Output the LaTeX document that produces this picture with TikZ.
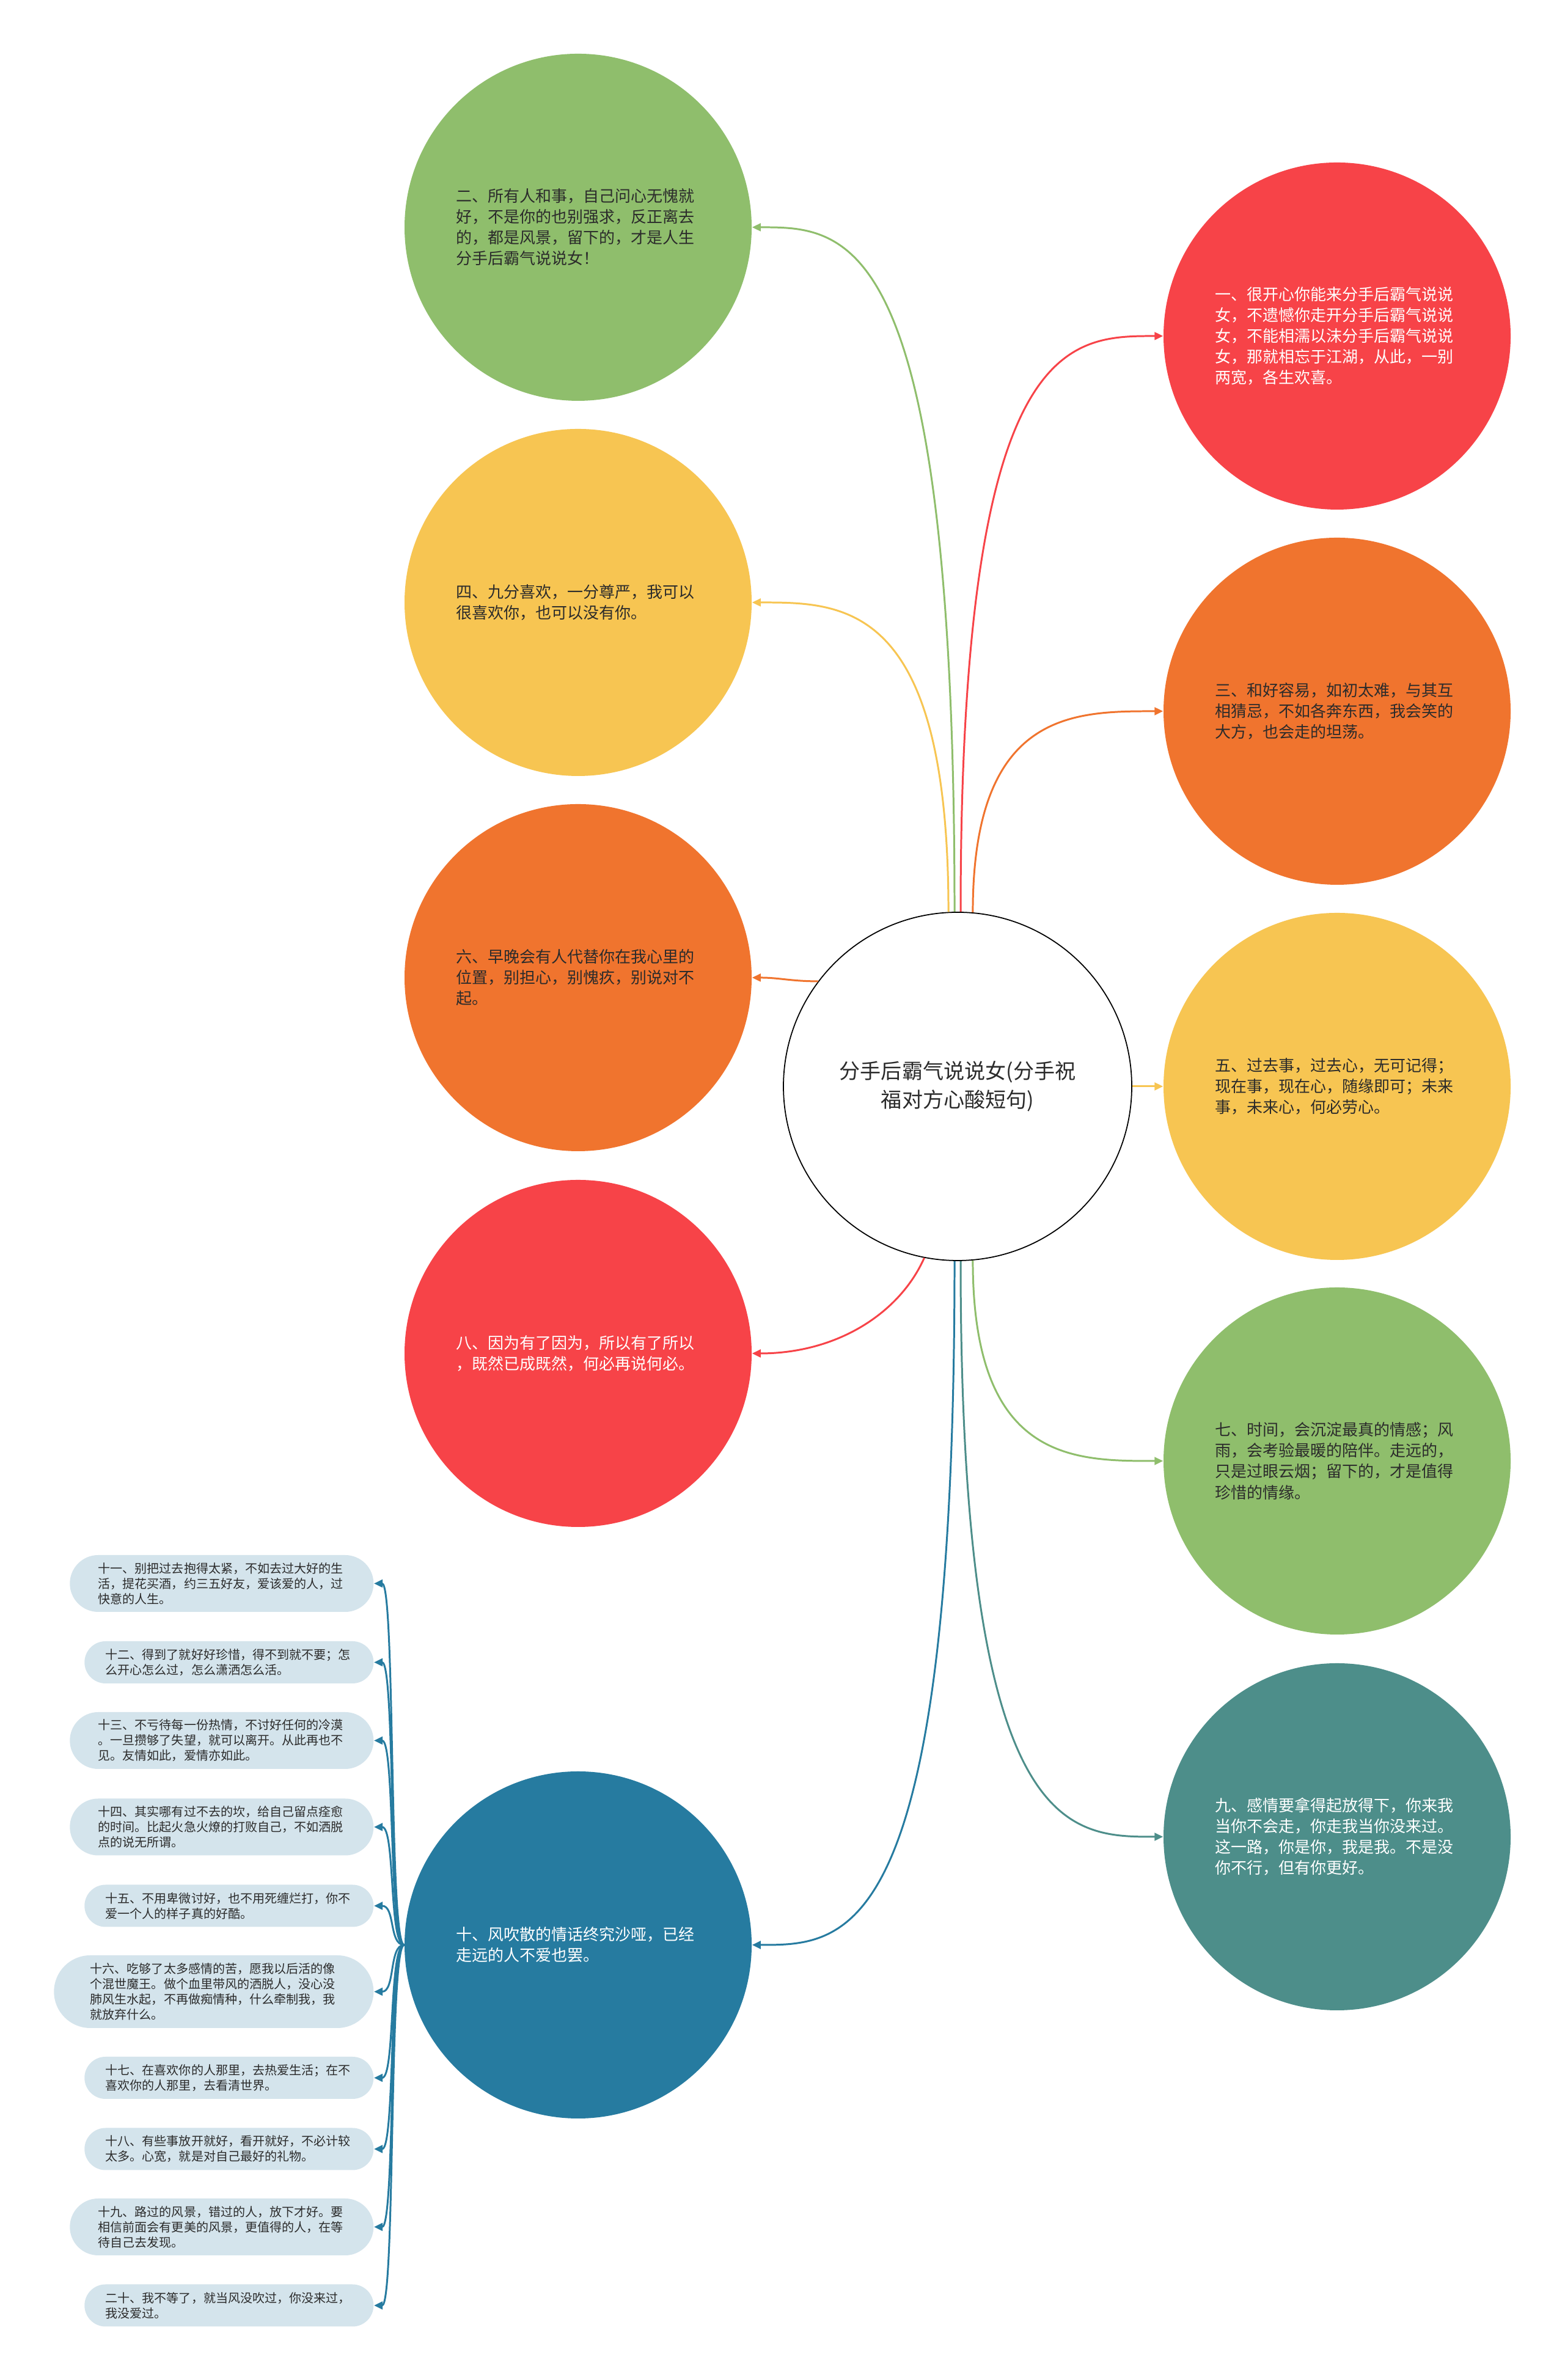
\documentclass[tikz,border=0pt]{standalone}
\usepackage{fontspec}
\usepackage{xcolor}
\usepackage{tikz}
\usetikzlibrary{arrows.meta, calc, positioning}
\newfontfamily\cjkfont{Noto Sans CJK SC}
\definecolor{softred}{HTML}{F74348}
\definecolor{leafgreen}{HTML}{8FBE6C}
\definecolor{warmorange}{HTML}{F0742E}
\definecolor{sunyellow}{HTML}{F7C552}
\definecolor{deepteal}{HTML}{4D8E8A}
\definecolor{oceanblue}{HTML}{267BA0}
\definecolor{leaffill}{HTML}{D4E4EC}
\definecolor{inkdark}{HTML}{2B2B2B}

\begin{document}
\begin{tikzpicture}[
  hub/.style     = {circle, draw=black, line width=0.5pt, fill=white, minimum size=5.70cm, inner sep=0pt, align=center, text=inkdark, font=\cjkfont\fontsize{9.7}{13.4}\selectfont},
  bubble/.style  = {circle, fill=#1, minimum size=5.68cm, inner sep=0pt, text width=4.0cm, align=left, text=inkdark, font=\cjkfont\fontsize{7.4}{9.7}\selectfont},
  leafbox/.style = {fill=leaffill, text=inkdark, minimum height=#1cm, inner xsep=0.5*#1cm, inner ysep=0pt, rounded corners=0.5*#1cm, text width=4.04cm, align=left, anchor=east, font=\cjkfont\fontsize{5.7}{7.1}\selectfont},
  arr/.style     = {-{Triangle[length=4pt,width=3.6pt]}, line width=0.85pt},
]
\useasboundingbox (0,0) rectangle (25.6,38.95);
\fill[white] (0,0) rectangle (25.6,38.95);
% centre
\node[hub] (c) at (15.67,21.17) {分手后霸气说说女(分手祝\\福对方心酸短句)};
% left column
\node[bubble=leafgreen] (n2) at (9.46,35.23) {二、所有人和事，自己问心无愧就\\好，不是你的也别强求，反正离去\\的，都是风景，留下的，才是人生\\分手后霸气说说女！};
\node[bubble=sunyellow] (n4) at (9.46,29.09) {四、九分喜欢，一分尊严，我可以\\很喜欢你，也可以没有你。};
\node[bubble=warmorange] (n6) at (9.46,22.95) {六、早晚会有人代替你在我心里的\\位置，别担心，别愧疚，别说对不\\起。};
\node[bubble=softred, text=white] (n8) at (9.46,16.80) {八、因为有了因为，所以有了所以\\，既然已成既然，何必再说何必。};
\node[bubble=oceanblue, text=white] (n10) at (9.46,7.12) {十、风吹散的情话终究沙哑，已经\\走远的人不爱也罢。};
% right column
\node[bubble=softred, text=white] (n1) at (21.88,33.45) {一、很开心你能来分手后霸气说说\\女，不遗憾你走开分手后霸气说说\\女，不能相濡以沫分手后霸气说说\\女，那就相忘于江湖，从此，一别\\两宽，各生欢喜。};
\node[bubble=warmorange] (n3) at (21.88,27.31) {三、和好容易，如初太难，与其互\\相猜忌，不如各奔东西，我会笑的\\大方，也会走的坦荡。};
\node[bubble=sunyellow] (n5) at (21.88,21.17) {五、过去事，过去心，无可记得；\\现在事，现在心，随缘即可；未来\\事，未来心，何必劳心。};
\node[bubble=leafgreen] (n7) at (21.88,15.04) {七、时间，会沉淀最真的情感；风\\雨，会考验最暖的陪伴。走远的，\\只是过眼云烟；留下的，才是值得\\珍惜的情缘。};
\node[bubble=deepteal, text=white] (n9) at (21.88,8.89) {九、感情要拿得起放得下，你来我\\当你不会走，你走我当你没来过。\\这一路，你是你，我是我。不是没\\你不行，但有你更好。};
% leaves of ten
\node[leafbox=0.93] (b11) at (6.12,13.035) {十一、别把过去抱得太紧，不如去过大好的生\\活，提花买酒，约三五好友，爱该爱的人，过\\快意的人生。};
\node[leafbox=0.69] (b12) at (6.12,11.745) {十二、得到了就好好珍惜，得不到就不要；怎\\么开心怎么过，怎么潇洒怎么活。};
\node[leafbox=0.93] (b13) at (6.12,10.465) {十三、不亏待每一份热情，不讨好任何的冷漠\\。一旦攒够了失望，就可以离开。从此再也不\\见。友情如此，爱情亦如此。};
\node[leafbox=0.93] (b14) at (6.12,9.05) {十四、其实哪有过不去的坎，给自己留点痊愈\\的时间。比起火急火燎的打败自己，不如洒脱\\点的说无所谓。};
\node[leafbox=0.69] (b15) at (6.12,7.76) {十五、不用卑微讨好，也不用死缠烂打，你不\\爱一个人的样子真的好酷。};
\node[leafbox=1.19] (b16) at (6.12,6.355) {十六、吃够了太多感情的苦，愿我以后活的像\\个混世魔王。做个血里带风的洒脱人，没心没\\肺风生水起，不再做痴情种，什么牵制我，我\\就放弃什么。};
\node[leafbox=0.69] (b17) at (6.12,4.945) {十七、在喜欢你的人那里，去热爱生活；在不\\喜欢你的人那里，去看清世界。};
\node[leafbox=0.69] (b18) at (6.12,3.78) {十八、有些事放开就好，看开就好，不必计较\\太多。心宽，就是对自己最好的礼物。};
\node[leafbox=0.93] (b19) at (6.12,2.505) {十九、路过的风景，错过的人，放下才好。要\\相信前面会有更美的风景，更值得的人，在等\\待自己去发现。};
\node[leafbox=0.69] (b20) at (6.12,1.22) {二十、我不等了，就当风没吹过，你没来过，\\我没爱过。};
% connectors from the centre
\draw[arr, leafgreen] (c.91) .. controls +(0,11.21) and +(1.56,0) .. (n2.east);
\draw[arr, sunyellow] (c.93) .. controls +(0,5.07) and +(1.51,0) .. (n4.east);
\draw[arr, warmorange] (c.143) .. controls +(-0.45,0) and +(0.45,0) .. (n6.east);
\draw[arr, softred] (c.259) .. controls +(-0.4,-0.9) and +(1.4,0) .. (n8.east);
\draw[arr, oceanblue] (c.269) .. controls +(0,-11.20) and +(1.56,0) .. (n10.east);
\draw[arr, softred] (c.89) .. controls +(0,9.43) and +(-1.56,0) .. (n1.west);
\draw[arr, warmorange] (c.85) .. controls +(0,3.30) and +(-1.47,0) .. (n3.west);
\draw[arr, sunyellow] (c.east) -- (n5.west);
\draw[arr, leafgreen] (c.275) .. controls +(0,-3.29) and +(-1.47,0) .. (n7.west);
\draw[arr, deepteal] (c.271) .. controls +(0,-9.43) and +(-1.56,0) .. (n9.west);
% connectors from ten
\draw[arr, oceanblue] (n10.west) .. controls +(-0.25,0) and +(0.35,0) .. (b11.east);
\draw[arr, oceanblue] (n10.west) .. controls +(-0.25,0) and +(0.35,0) .. (b12.east);
\draw[arr, oceanblue] (n10.west) .. controls +(-0.25,0) and +(0.35,0) .. (b13.east);
\draw[arr, oceanblue] (n10.west) .. controls +(-0.25,0) and +(0.35,0) .. (b14.east);
\draw[arr, oceanblue] (n10.west) .. controls +(-0.25,0) and +(0.35,0) .. (b15.east);
\draw[arr, oceanblue] (n10.west) .. controls +(-0.25,0) and +(0.35,0) .. (b16.east);
\draw[arr, oceanblue] (n10.west) .. controls +(-0.25,0) and +(0.35,0) .. (b17.east);
\draw[arr, oceanblue] (n10.west) .. controls +(-0.25,0) and +(0.35,0) .. (b18.east);
\draw[arr, oceanblue] (n10.west) .. controls +(-0.25,0) and +(0.35,0) .. (b19.east);
\draw[arr, oceanblue] (n10.west) .. controls +(-0.25,0) and +(0.35,0) .. (b20.east);
\end{tikzpicture}
\end{document}
